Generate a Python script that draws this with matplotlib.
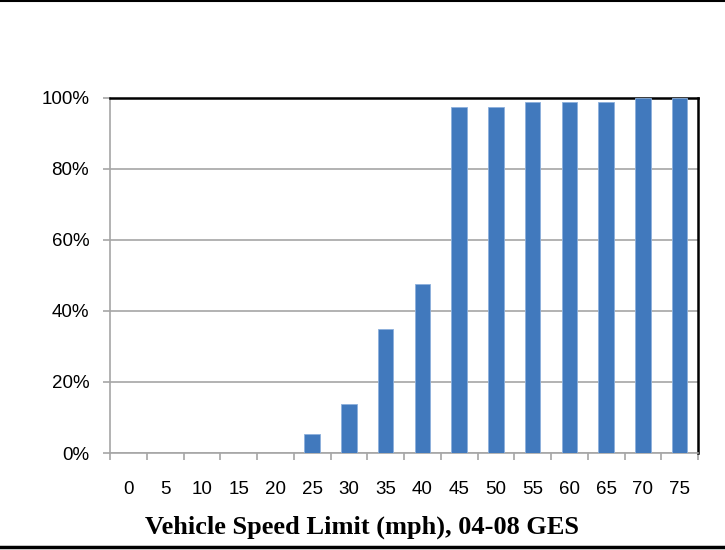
import matplotlib.pyplot as plt
import numpy as np
from matplotlib.lines import Line2D
from matplotlib.ticker import FixedLocator, PercentFormatter

speed_limits = ["0", "5", "10", "15", "20", "25", "30", "35",
                "40", "45", "50", "55", "60", "65", "70", "75"]
share = [0, 0, 0, 0, 0, 5.4, 13.9, 34.8,
         47.5, 97.6, 97.6, 98.8, 98.8, 98.8, 100, 100]

BAR_COLOR = "#4179bd"
GRID_GRAY = "#a6a6a6"

plt.rcParams["font.family"] = ["Liberation Sans", "DejaVu Sans"]

fig = plt.figure(figsize=(7.25, 5.5), dpi=100)
ax = fig.add_axes([110 / 725, 1 - 453 / 550, 588 / 725, 355 / 550])

x = np.arange(len(speed_limits))
ax.bar(x, share, width=0.42, color=BAR_COLOR, edgecolor="#8cb0dc",
       linewidth=0.6, zorder=3)

ax.set_xlim(-0.5, len(speed_limits) - 0.5)
ax.set_ylim(0, 100)
ax.set_yticks(np.arange(0, 101, 20))
ax.yaxis.set_major_formatter(PercentFormatter(decimals=0))
ax.grid(axis="y", color=GRID_GRAY, linewidth=1.2, zorder=0)

ax.set_xticks(x)
ax.set_xticklabels(speed_limits)
ax.xaxis.set_minor_locator(FixedLocator(np.arange(-0.5, len(speed_limits), 1.0)))
ax.tick_params(axis="x", which="major", length=0, pad=20, labelsize=13.5)
ax.tick_params(axis="x", which="minor", length=5, width=1.2, color=GRID_GRAY)
ax.tick_params(axis="y", length=5, width=1.2, color=GRID_GRAY, pad=10,
               labelsize=13.5)

for side in ("left", "bottom"):
    ax.spines[side].set_color(GRID_GRAY)
    ax.spines[side].set_linewidth(1.2)
for side in ("top", "right"):
    ax.spines[side].set_color("black")
    ax.spines[side].set_linewidth(1.8)

fig.text(362 / 725, 1 - 527 / 550, "Vehicle Speed Limit (mph), 04-08 GES",
         ha="center", va="center", fontsize=19, fontweight="bold",
         family=["Liberation Serif", "DejaVu Serif"])

# frame lines at the top and bottom edge of the picture
fig.add_artist(Line2D([0, 1], [1 - 1 / 550, 1 - 1 / 550], color="black",
                      linewidth=1.5, transform=fig.transFigure))
fig.add_artist(Line2D([0, 1], [3 / 550, 3 / 550], color="black",
                      linewidth=2.5, transform=fig.transFigure))

fig.savefig("out.png", dpi=100)
